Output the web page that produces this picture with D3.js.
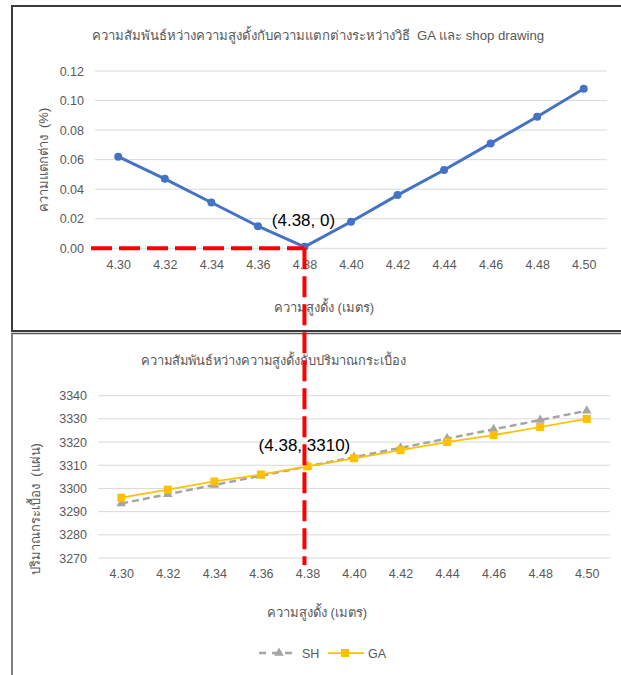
<!DOCTYPE html>
<html><head><meta charset="utf-8">
<script src="https://cdn.jsdelivr.net/npm/d3@7"></script>
<style>
html,body{margin:0;padding:0;background:#fff;}
svg{display:block;}
text{font-family:"Liberation Sans","Noto Sans",sans-serif;white-space:pre;}
</style></head>
<body>
<svg id="chart" width="621" height="675"></svg>
<script>
const heights = ["4.30","4.32","4.34","4.36","4.38","4.40","4.42","4.44","4.46","4.48","4.50"];
const diffPct = [0.062,0.047,0.031,0.015,0.001,0.018,0.036,0.053,0.071,0.089,0.108];
const shValues = [3293.5,3297.5,3301.5,3305.5,3309.5,3313.5,3317.5,3321.5,3325.5,3329.5,3333.5];
const gaValues = [3296,3299.5,3303,3306,3309.5,3313,3316.5,3320,3323,3326.5,3330];
const topTicks = [0,0.02,0.04,0.06,0.08,0.10,0.12];
const bottomTicks = [3270,3280,3290,3300,3310,3320,3330,3340];
const topTitle = "ความสัมพันธ์หว่างความสูงดั้งกับความแตกต่างระหว่างวิธี  GA และ shop drawing";
const bottomTitle = "ความสัมพันธ์หว่างความสูงดั้งกับปริมาณกระเบื้อง";
const xTitle = "ความสูงดั้ง (เมตร)";
const topYTitle = "ความแตกต่าง  (%)";
const bottomYTitle = "ปริมาณกระเบื้อง  (แผ่น)";
const seriesNames = ["SH","GA"];
const optimumLabelTop = "(4.38, 0)";
const optimumLabelBottom = "(4.38, 3310)";
const optimumX = "4.38";

const svg = d3.select("#chart");
const gray = "#595959", grid = "#D9D9D9";

// frames
svg.append("rect").attr("x",12).attr("y",6).attr("width",700).attr("height",325)
  .attr("fill","none").attr("stroke","#3a3a3a").attr("stroke-width",2);
svg.append("rect").attr("x",12).attr("y",333.5).attr("width",700).attr("height",400)
  .attr("fill","none").attr("stroke","#5a5a5a").attr("stroke-width",1.5);

function drawFrame(opts){
  const x = d3.scalePoint().domain(heights).range(opts.xr).padding(0.5);
  const y = d3.scaleLinear().domain(opts.yd).range(opts.yr);
  const g = svg.append("g");
  g.selectAll("line.grid").data(opts.ticks).join("line")
    .attr("x1",opts.xr[0]).attr("x2",opts.xr[1])
    .attr("y1",d=>y(d)).attr("y2",d=>y(d))
    .attr("stroke",grid).attr("stroke-width",1);
  const ya = d3.axisLeft(y).tickValues(opts.ticks).tickFormat(opts.fmt).tickSize(0).tickPadding(0);
  const yg = g.append("g").attr("transform",`translate(${opts.yLabelX},0)`).call(ya);
  yg.select(".domain").remove();
  yg.selectAll("text").attr("fill",gray).attr("font-size",12.5);
  const xa = d3.axisBottom(x).tickSize(0).tickPadding(0);
  const xg = g.append("g").attr("transform",`translate(0,${opts.xLabelY})`).call(xa);
  xg.select(".domain").remove();
  xg.selectAll("text").attr("fill",gray).attr("font-size",12.5);
  g.append("text").attr("x",opts.titleX).attr("y",opts.titleY).attr("text-anchor","middle")
    .attr("fill",gray).attr("font-size",opts.titleSize).text(opts.title);
  g.append("text").attr("x",opts.xTitleX).attr("y",opts.xTitleY).attr("text-anchor","middle")
    .attr("fill",gray).attr("font-size",13).text(xTitle);
  g.append("text").attr("transform",`translate(${opts.yTitleX},${opts.yTitleY}) rotate(-90)`)
    .attr("text-anchor","middle").attr("fill",gray).attr("font-size",13).text(opts.yTitle);
  return {x,y,g};
}

// top chart
const T = drawFrame({xr:[95,607], yd:[0,0.12], yr:[248.3,71], ticks:topTicks, fmt:d3.format(".2f"),
  yLabelX:84, xLabelY:260, title:topTitle, titleSize:13.2, titleX:318, titleY:40, xTitleX:324, xTitleY:312,
  yTitleX:48, yTitleY:160, yTitle:topYTitle});
const topData = heights.map((h,i)=>({h,v:diffPct[i]}));
T.g.append("path").datum(topData)
  .attr("d",d3.line().x(d=>T.x(d.h)).y(d=>T.y(d.v)))
  .attr("fill","none").attr("stroke","#4472C4").attr("stroke-width",3).attr("stroke-linejoin","round");
T.g.selectAll("circle.pt").data(topData).join("circle")
  .attr("cx",d=>T.x(d.h)).attr("cy",d=>T.y(d.v)).attr("r",4).attr("fill","#4472C4");

// bottom chart
const B = drawFrame({xr:[98,610], yd:[3270,3340], yr:[558,395.7], ticks:bottomTicks, fmt:d3.format("d"),
  yLabelX:87, xLabelY:569, title:bottomTitle, titleSize:12.9, titleX:273, titleY:365, xTitleX:317, xTitleY:617,
  yTitleX:40, yTitleY:509, yTitle:bottomYTitle});
const shData = heights.map((h,i)=>({h,v:shValues[i]}));
const gaData = heights.map((h,i)=>({h,v:gaValues[i]}));
const bl = d3.line().x(d=>B.x(d.h)).y(d=>B.y(d.v));
B.g.append("path").datum(shData).attr("d",bl).attr("fill","none")
  .attr("stroke","#A5A5A5").attr("stroke-width",2.5).attr("stroke-dasharray","7,4");
const tri = d3.symbol().type(d3.symbolTriangle).size(40);
B.g.selectAll("path.sh").data(shData).join("path")
  .attr("transform",d=>`translate(${B.x(d.h)},${B.y(d.v)})`).attr("d",tri).attr("fill","#A5A5A5");
B.g.append("path").datum(gaData).attr("d",bl).attr("fill","none")
  .attr("stroke","#FFC000").attr("stroke-width",1.75);
B.g.selectAll("rect.ga").data(gaData).join("rect")
  .attr("x",d=>B.x(d.h)-4).attr("y",d=>B.y(d.v)-4).attr("width",8).attr("height",8).attr("fill","#FFC000");

// legend
const lg = svg.append("g").attr("transform","translate(0,653)");
lg.append("line").attr("x1",259).attr("x2",298).attr("stroke","#A5A5A5").attr("stroke-width",2.5).attr("stroke-dasharray","7,6");
lg.append("path").attr("transform","translate(279,0)").attr("d",tri).attr("fill","#A5A5A5");
lg.append("text").attr("x",302).attr("y",4.5).attr("fill",gray).attr("font-size",12.5).text(seriesNames[0]);
lg.append("line").attr("x1",328).attr("x2",364).attr("stroke","#FFC000").attr("stroke-width",1.75);
lg.append("rect").attr("x",341).attr("y",-4).attr("width",8).attr("height",8).attr("fill","#FFC000");
lg.append("text").attr("x",368).attr("y",4.5).attr("fill",gray).attr("font-size",12.5).text(seriesNames[1]);

// red dashed guides
const ox = T.x(optimumX), oy = T.y(0);
svg.append("line").attr("x1",91).attr("x2",ox).attr("y1",oy).attr("y2",oy)
  .attr("stroke","#FF0000").attr("stroke-width",4).attr("stroke-dasharray","21,7");
svg.append("line").attr("x1",ox).attr("x2",ox).attr("y1",oy).attr("y2",565)
  .attr("stroke","#FF0000").attr("stroke-width",4).attr("stroke-dasharray","21,7");

// annotations
svg.append("text").attr("x",ox-1).attr("y",226).attr("text-anchor","middle").attr("fill","#000")
  .attr("font-size",17).text(optimumLabelTop);
svg.append("text").attr("x",ox).attr("y",451).attr("text-anchor","middle").attr("fill","#000")
  .attr("font-size",17).text(optimumLabelBottom);
</script>
</body></html>
